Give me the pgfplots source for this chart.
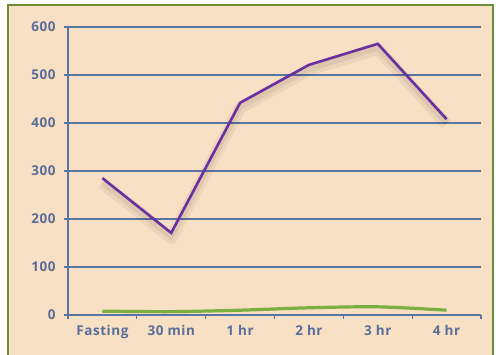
\documentclass[border=0pt]{standalone}
\usepackage{pgfplots}
\pgfplotsset{compat=1.18}
\usepackage{fontspec}
\setmainfont{Open Sans}
\newfontfamily\lblfont[LetterSpace=4]{Open Sans}
\definecolor{bgpeach}{HTML}{F8E0C4}
\definecolor{framegreen}{HTML}{6E8C3C}
\definecolor{gridblue}{HTML}{5A74A4}
\definecolor{labelblue}{HTML}{5B6E9A}
\definecolor{lpurple}{HTML}{6A2FA0}
\definecolor{lgreen}{HTML}{7AB040}
\begin{document}
\begin{tikzpicture}[x=1pt,y=1pt]
\useasboundingbox (0,0) rectangle (496,355);
\fill[white] (0,0) rectangle (496,355);
\fill[bgpeach] (8,0) rectangle (493,350);
\draw[framegreen,line width=2.5pt] (8,-5) -- (8,350) -- (493,350) -- (493,-5);
\begin{axis}[
  at={(68pt,40pt)}, anchor=south west,
  scale only axis, width=413pt, height=288pt,
  xmin=-0.5, xmax=5.5, ymin=0, ymax=600,
  xtick={0,...,5},
  xticklabels={Fasting,30 min,1 hr,2 hr,3 hr,4 hr},
  minor xtick={-0.5,0.5,...,5.5},
  major x tick style={draw=none},
  ytick={0,100,...,600},
  tick align=outside,
  major tick length=4pt, minor tick length=4pt,
  axis x line*=bottom, axis y line*=left,
  axis line style={gridblue,line width=1.2pt},
  every tick/.style={gridblue,line width=1.2pt},
  ymajorgrids,
  grid style={gridblue,line width=1.2pt},
  ticklabel style={text=labelblue,font=\lblfont\fontsize{13.5}{15}\selectfont\bfseries},
  xticklabel style={yshift=-3pt},
  yticklabel style={xshift=-5pt},
  /pgf/number format/assume math mode=true,
  clip=false,
]
\addplot[black,opacity=0.05,line width=12pt,line join=round,yshift=-5pt] coordinates {(0,285) (1,171) (2,442) (3,521) (4,565) (5,408)};
\addplot[black,opacity=0.06,line width=6pt,line join=round,yshift=-4pt] coordinates {(0,285) (1,171) (2,442) (3,521) (4,565) (5,408)};
\addplot[lgreen,line width=3.2pt,smooth] coordinates {(0,8) (1,7) (2,10) (3,15) (4,17) (5,10)};
\addplot[lpurple,line width=2.6pt] coordinates {(0,285) (1,171) (2,442) (3,521) (4,565) (5,408)};
\end{axis}
\end{tikzpicture}
\end{document}
